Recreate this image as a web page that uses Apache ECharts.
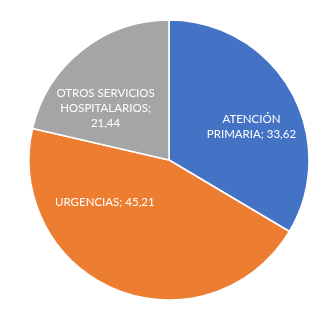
<!DOCTYPE html>
<html>
<head>
<meta charset="utf-8">
<script src="https://cdn.jsdelivr.net/npm/echarts@6/dist/echarts.min.js"></script>
<style>
  html, body { margin: 0; padding: 0; background: #fff; }
  #main { width: 329px; height: 319px; }
</style>
</head>
<body>
<div id="main"></div>
<script>
// categories and values, in drawing order (clockwise from 12 o'clock)
var categories = ['ATENCIÓN PRIMARIA', 'URGENCIAS', 'OTROS SERVICIOS HOSPITALARIOS'];
var values = [33.62, 45.21, 21.44];
// how Excel wrapped each label
var labelLines = [
  ['ATENCIÓN', 'PRIMARIA; 33,62'],
  ['URGENCIAS; 45,21'],
  ['OTROS SERVICIOS', 'HOSPITALARIOS;', '21,44']
];
var colors = ['#4472C4', '#ED7D31', '#A5A5A5'];
// nudges from the default 'inside' spot (Excel best fit)
var offsets = [[19, 3], [-37, -25], [-18, 5]];

var chart = echarts.init(document.getElementById('main'));

var data = categories.map(function (name, i) {
  return {
    name: name,
    value: values[i],
    itemStyle: { color: colors[i] },
    label: { offset: offsets[i] }
  };
});

chart.setOption({
  animation: false,
  series: [{
    type: 'pie',
    center: [169, 160],
    radius: [0, 140],
    startAngle: 90,
    clockwise: true,
    data: data,
    itemStyle: { borderColor: '#fff', borderWidth: 1.5 },
    label: {
      show: true,
      position: 'inside',
      color: '#fff',
      fontFamily: 'Lato',
      fontSize: 11.5,
      lineHeight: 15,
      align: 'center',
      formatter: function (p) {
        return labelLines[p.dataIndex].join('\n');
      }
    },
    labelLine: { show: false },
    emphasis: { disabled: true }
  }]
});
</script>
</body>
</html>
